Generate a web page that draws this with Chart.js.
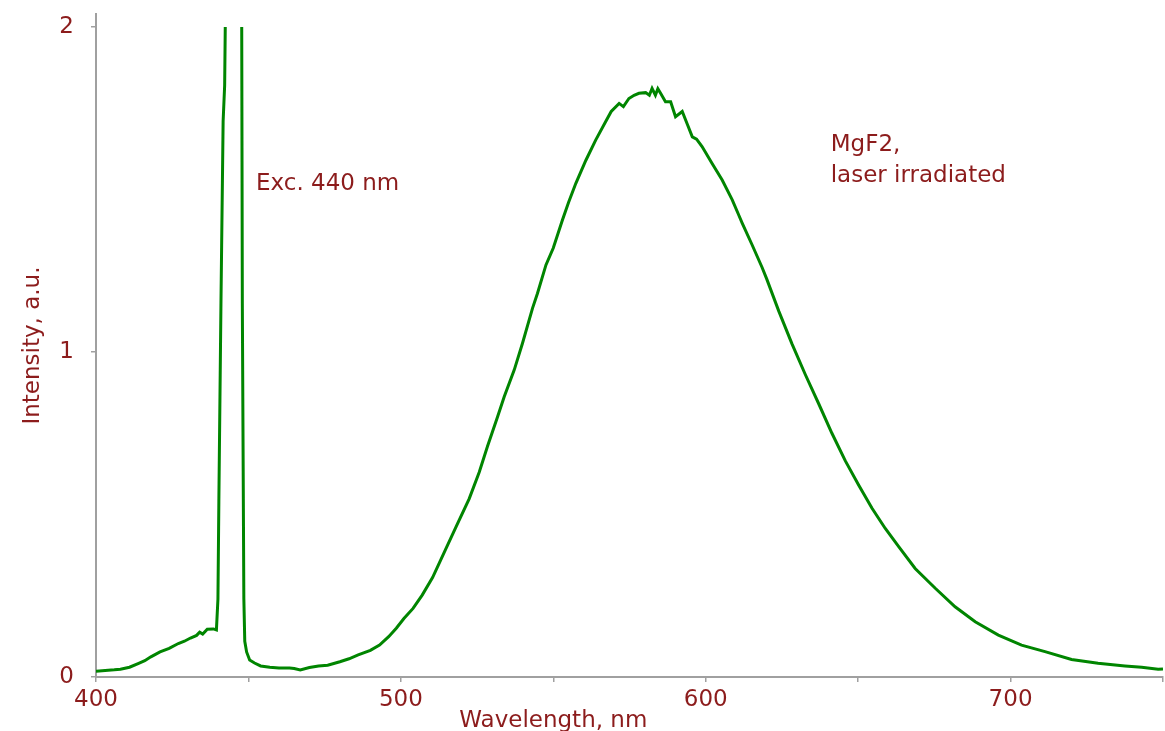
<!DOCTYPE html>
<html>
<head>
<meta charset="utf-8">
<script src="https://cdn.jsdelivr.net/npm/chart.js@4/dist/chart.umd.min.js"></script>
<style>
  html, body { margin: 0; padding: 0; background: #fff; overflow: hidden; }
  #wrap { width: 1165px; height: 731px; position: relative; }
</style>
</head>
<body>
<div id="wrap"><canvas id="spectrum"></canvas></div>
<script>
// wavelength, nm
const wavelength = [
    400, 403, 406, 408, 411, 414, 416, 418, 421, 424, 427, 429, 431, 433, 434, 435, 436.5, 438.5, 439.5,
    440.0, 440.3, 441.0, 441.7, 442.2, 442.4, 445, 447.8, 448.0, 448.5, 448.8, 449.4, 450.4, 452, 454, 457,
    460, 463.5, 465, 467, 470, 473, 476, 480, 483, 486, 490, 493, 496, 498.5, 501, 504, 507, 510.4, 514.3,
    518.1, 522.4, 525.7, 528.4, 531.7, 533.9, 537.2, 539.9, 543.2, 544.8, 547.6, 550, 553, 555, 557.4, 560.7,
    563.9, 567.2, 569, 571.6, 573, 574.8, 576.5, 578.1, 580.3, 581.5, 582.4, 583.5, 584.3, 585.2, 586.8, 588.5,
    590.1, 592.3, 594, 595.6, 597, 598.8, 602.1, 605.4, 608.7, 610.9, 612, 615.2, 618.5, 620, 624, 628.3,
    632.7, 637.1, 641.4, 645.8, 650.2, 654.5, 658.9, 663.3, 668.7, 675.3, 681.8, 688.4, 696, 703.6, 711.3,
    720, 728.7, 737.5, 743, 748.4, 750
];

// intensity, a.u. (detector saturated between the two edges of the 440 nm line -> null)
const intensity = [
    0.018, 0.020, 0.022, 0.024, 0.030, 0.042, 0.050, 0.062, 0.077, 0.088, 0.103, 0.110, 0.120, 0.128, 0.138, 0.132, 0.147, 0.148, 0.145,
    0.24, 0.54, 1.16, 1.71, 1.82, 2.0, null, 2.0, 1.15, 0.24, 0.11, 0.077, 0.052, 0.043, 0.034, 0.030,
    0.028, 0.028, 0.026, 0.022, 0.029, 0.034, 0.036, 0.047, 0.056, 0.068, 0.082, 0.098, 0.124, 0.150, 0.180, 0.211, 0.252, 0.306, 0.385,
    0.462, 0.548, 0.630, 0.709, 0.800, 0.862, 0.945, 1.027, 1.135, 1.180, 1.268, 1.320, 1.406, 1.460, 1.519, 1.590,
    1.652, 1.709, 1.740, 1.765, 1.755, 1.780, 1.790, 1.796, 1.798, 1.790, 1.811, 1.790, 1.810, 1.796, 1.770, 1.770,
    1.724, 1.740, 1.700, 1.662, 1.655, 1.632, 1.580, 1.529, 1.468, 1.420, 1.396, 1.330, 1.260, 1.225, 1.125, 1.025,
    0.930, 0.840, 0.750, 0.665, 0.590, 0.520, 0.457, 0.401, 0.334, 0.273, 0.216, 0.170, 0.129, 0.098, 0.078,
    0.054, 0.042, 0.034, 0.030, 0.024, 0.025
];

const xTicks = [400, 500, 600, 700];
const yTicks = [0, 1, 2];

const textColor = 'rgb(140, 28, 28)';
const axisColor = 'rgb(160, 160, 160)';
const fontFamily = '"DejaVu Sans", sans-serif';

// free text on the plot, placed in data units
const notes = [
    { text: 'Exc. 440 nm', x: 452.5, y: 1.5 },
    { text: 'MgF2,', x: 641, y: 1.618 },
    { text: 'laser irradiated', x: 641, y: 1.522 }
];

const notePlugin = {
    id: 'notes',
    afterDraw(chart) {
        const ctx = chart.ctx;
        const xs = chart.scales.x;
        const ys = chart.scales.y;
        ctx.save();
        ctx.fillStyle = textColor;
        ctx.font = '23px ' + fontFamily;
        ctx.textBaseline = 'alphabetic';
        ctx.textAlign = 'left';
        notes.forEach(n => {
            ctx.fillText(n.text, xs.getPixelForValue(n.x), ys.getPixelForValue(n.y));
        });
        // x axis title sits under 550 nm in the original
        ctx.textAlign = 'center';
        ctx.fillText('Wavelength, nm', xs.getPixelForValue(550), chart.chartArea.bottom + 50);
        ctx.restore();
    }
};

const points = wavelength.map((w, i) => ({ x: w, y: intensity[i] }));

const config = {
    type: 'line',
    data: {
        datasets: [{
            label: 'MgF2, laser irradiated',
            data: points,
            borderColor: 'rgb(0, 133, 0)',
            borderWidth: 3,
            pointRadius: 0,
            tension: 0,
            spanGaps: false,
            fill: false
        }]
    },
    options: {
        responsive: true,
        maintainAspectRatio: false,
        animation: false,
        layout: {
            padding: { left: 0, right: 2, top: 14, bottom: 0 }
        },
        plugins: {
            legend: { display: false },
            tooltip: { enabled: false },
            title: { display: false }
        },
        scales: {
            x: {
                type: 'linear',
                min: 400,
                max: 750,
                afterFit: s => {
                    s.height = 54;
                    s.paddingLeft = 0;
                    s.paddingRight = 0;
                },
                ticks: {
                    stepSize: 50,
                    padding: 4,
                    color: textColor,
                    font: { family: fontFamily, size: 23 },
                    maxRotation: 0,
                    callback: v => xTicks.includes(v) ? String(v) : ''
                },
                grid: {
                    drawOnChartArea: false,
                    drawTicks: true,
                    tickLength: 5,
                    color: axisColor,
                    lineWidth: 1.5
                },
                border: { color: axisColor, width: 2 }
            },
            y: {
                type: 'linear',
                min: 0,
                max: 2.04,
                afterBuildTicks: s => {
                    s.ticks = yTicks.map(v => ({ value: v }));
                },
                afterFit: s => {
                    s.width = 96;
                    s.paddingTop = 0;
                    s.paddingBottom = 0;
                },
                ticks: {
                    padding: 17,
                    color: textColor,
                    font: { family: fontFamily, size: 23 }
                },
                grid: {
                    drawOnChartArea: false,
                    drawTicks: true,
                    tickLength: 5,
                    color: axisColor,
                    lineWidth: 1.5
                },
                border: { color: axisColor, width: 2 },
                title: {
                    display: true,
                    text: 'Intensity, a.u.',
                    color: textColor,
                    font: { family: fontFamily, size: 23 },
                    padding: { top: 19, bottom: 0 }
                }
            }
        }
    },
    plugins: [notePlugin]
};

new Chart(
    document.getElementById('spectrum'),
    config
);
</script>
</body>
</html>
